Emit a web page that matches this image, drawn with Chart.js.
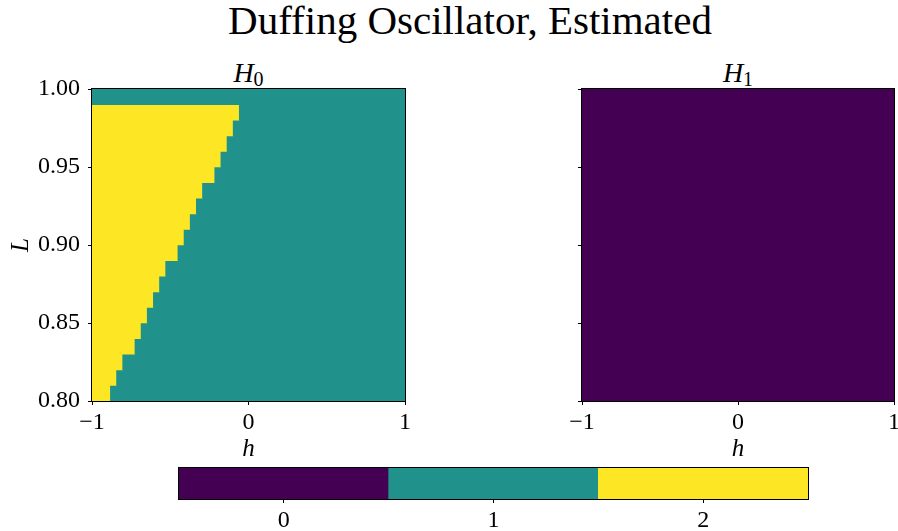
<!DOCTYPE html>
<html>
<head>
<meta charset="utf-8">
<script src="https://cdn.jsdelivr.net/npm/chart.js@4.4.1/dist/chart.umd.min.js"></script>
<style>
  html, body { margin: 0; padding: 0; background: #fff; overflow: hidden; width: 898px; height: 531px; }
  body { position: relative; font-family: "Liberation Serif", serif; color: #000; }
  canvas { position: absolute; }
  .suptitle { position: absolute; left: 470px; top: 0; transform: translateX(-50%); font-size: 41px; line-height: 40px; white-space: nowrap; }
  .ptitle { position: absolute; top: 59px; transform: translateX(-50%); font-size: 28px; line-height: 28px; white-space: nowrap; }
  .ptitle sub { font-style: normal; font-size: 20px; vertical-align: -4px; line-height: 0; }
</style>
</head>
<body>
<div class="suptitle">Duffing Oscillator, Estimated</div>
<div class="ptitle" style="left:248.5px"><i>H</i><sub>0</sub></div>
<div class="ptitle" style="left:738px"><i>H</i><sub>1</sub></div>
<canvas id="h0" width="430" height="410" style="left:0;top:60px"></canvas>
<canvas id="h1" width="440" height="410" style="left:470px;top:60px"></canvas>
<canvas id="cbar" width="710" height="71" style="left:140px;top:460px"></canvas>
<script>
/* ===== DATA ===== */
const hTicks  = [-1, 0, 1];
const lTicks  = [0.80, 0.85, 0.90, 0.95, 1.00];
const cbTicks = [0, 1, 2];
const nCols   = 51;                       // cells across h in [-1, 1]
// L cell centres, bottom row first (cells 0.01 tall)
const rowMid = [0.805, 0.815, 0.825, 0.835, 0.845, 0.855, 0.865, 0.875, 0.885, 0.895,
                0.905, 0.915, 0.925, 0.935, 0.945, 0.955, 0.965, 0.975, 0.985, 0.995];
// H0: number of cells with value 2 at the left of each row, rest of the row is 1
const h0TwoCols = [3, 4, 5, 7, 8, 9, 10, 11, 12, 14, 15, 16, 17, 18, 20, 21, 22, 23, 24, 0];
// H1: every cell is 0
const h1Row = [0, 0, 0, 0, 0, 0, 0, 0, 0, 0, 0, 0, 0, 0, 0, 0, 0, 0, 0, 0];

const VIRIDIS = ['#440154', '#21918c', '#fde725'];
const FONT = '"Liberation Serif", serif';
const fmtTick = (v) => v < 0 ? '\u2212' + Math.abs(v) : String(v);

Chart.defaults.font.family = FONT;
Chart.defaults.color = '#000';

/* ===== helpers ===== */
const frame = {
  id: 'frame',
  afterDatasetsDraw(chart) {
    const { ctx, chartArea: a } = chart;
    ctx.save();
    ctx.strokeStyle = '#000';
    ctx.lineWidth = 1;
    ctx.strokeRect(Math.round(a.left) - 0.5, Math.round(a.top) - 0.5,
                   Math.round(a.right - a.left) + 1, Math.round(a.bottom - a.top) + 1);
    ctx.restore();
  }
};

function heatSegments(twoCols, leftVal, rightVal) {
  const cellW = 2 / nCols;
  const data = [], colors = [];
  rowMid.forEach((L, i) => {
    const n = twoCols[i];
    const edge = -1 + n * cellW;
    if (n > 0) { data.push({ x: [-1, edge], y: L }); colors.push(VIRIDIS[leftVal]); }
    data.push({ x: [edge, 1], y: L }); colors.push(VIRIDIS[typeof rightVal === 'number' ? rightVal : rightVal[i]]);
  });
  return { data, colors };
}

function fixTicks(values) {
  return (scale) => { scale.ticks = values.map(v => ({ value: v })); };
}

function panel(id, seg, yLabels, yWidth, padRight) {
  return new Chart(document.getElementById(id), {
    type: 'bar',
    data: {
      datasets: [{
        data: seg.data,
        backgroundColor: seg.colors,
        borderWidth: 0,
        barPercentage: 1,
        categoryPercentage: 1,
      }]
    },
    options: {
      indexAxis: 'y',
      responsive: false,
      animation: false,
      layout: { padding: { top: 29, left: 0, right: padRight, bottom: 0 } },
      plugins: { legend: { display: false }, tooltip: { enabled: false } },
      scales: {
        x: {
          type: 'linear', min: -1, max: 1, stacked: false,
          afterBuildTicks: fixTicks(hTicks),
          afterFit: (s) => { s.height = 69; },
          grid: { display: true, drawOnChartArea: false, tickLength: 4, color: '#000' },
          border: { display: false },
          ticks: { font: { size: 24 }, padding: 3, maxRotation: 0, callback: fmtTick },
          title: { display: true, text: 'h', font: { size: 25, style: 'italic' }, padding: { top: 0, bottom: 6 } },
        },
        y: {
          type: 'linear', min: 0.8, max: 1.0, offset: false,
          afterBuildTicks: fixTicks(lTicks),
          afterFit: (s) => { s.width = yWidth; },
          grid: { display: true, drawOnChartArea: false, offset: false, tickLength: 4, color: '#000' },
          border: { display: false },
          ticks: { font: { size: 24 }, padding: 8, callback: (v) => yLabels ? v.toFixed(2) : '' },
          title: { display: yLabels, text: 'L', font: { size: 25, style: 'italic' }, padding: { top: 6, bottom: 0 } },
        }
      }
    },
    plugins: [frame]
  });
}

/* ===== PANELS ===== */
panel('h0', heatSegments(h0TwoCols, 2, 1), true, 92, 25);
panel('h1', heatSegments(h1Row, 0, h1Row), false, 112, 16);

/* ===== COLORBAR ===== */
new Chart(document.getElementById('cbar'), {
  type: 'bar',
  data: {
    labels: ['cb'],
    datasets: [{
      data: cbTicks.map(v => ({ x: [v - 0.5, v + 0.5], y: 'cb' })),
      backgroundColor: cbTicks.map(v => VIRIDIS[v]),
      borderWidth: 0,
      barPercentage: 1,
      categoryPercentage: 1,
    }]
  },
  options: {
    indexAxis: 'y',
    responsive: false,
    animation: false,
    layout: { padding: { top: 8, left: 39, right: 42, bottom: 0 } },
    plugins: { legend: { display: false }, tooltip: { enabled: false } },
    scales: {
      x: {
        type: 'linear', min: -0.5, max: 2.5, stacked: false,
        afterBuildTicks: fixTicks(cbTicks),
        afterFit: (s) => { s.height = 32; },
        grid: { display: true, drawOnChartArea: false, tickLength: 4, color: '#000' },
        border: { display: false },
        ticks: { font: { size: 24 }, padding: 3, callback: fmtTick },
      },
      y: { type: 'category', display: false }
    }
  },
  plugins: [frame]
});
</script>
</body>
</html>
